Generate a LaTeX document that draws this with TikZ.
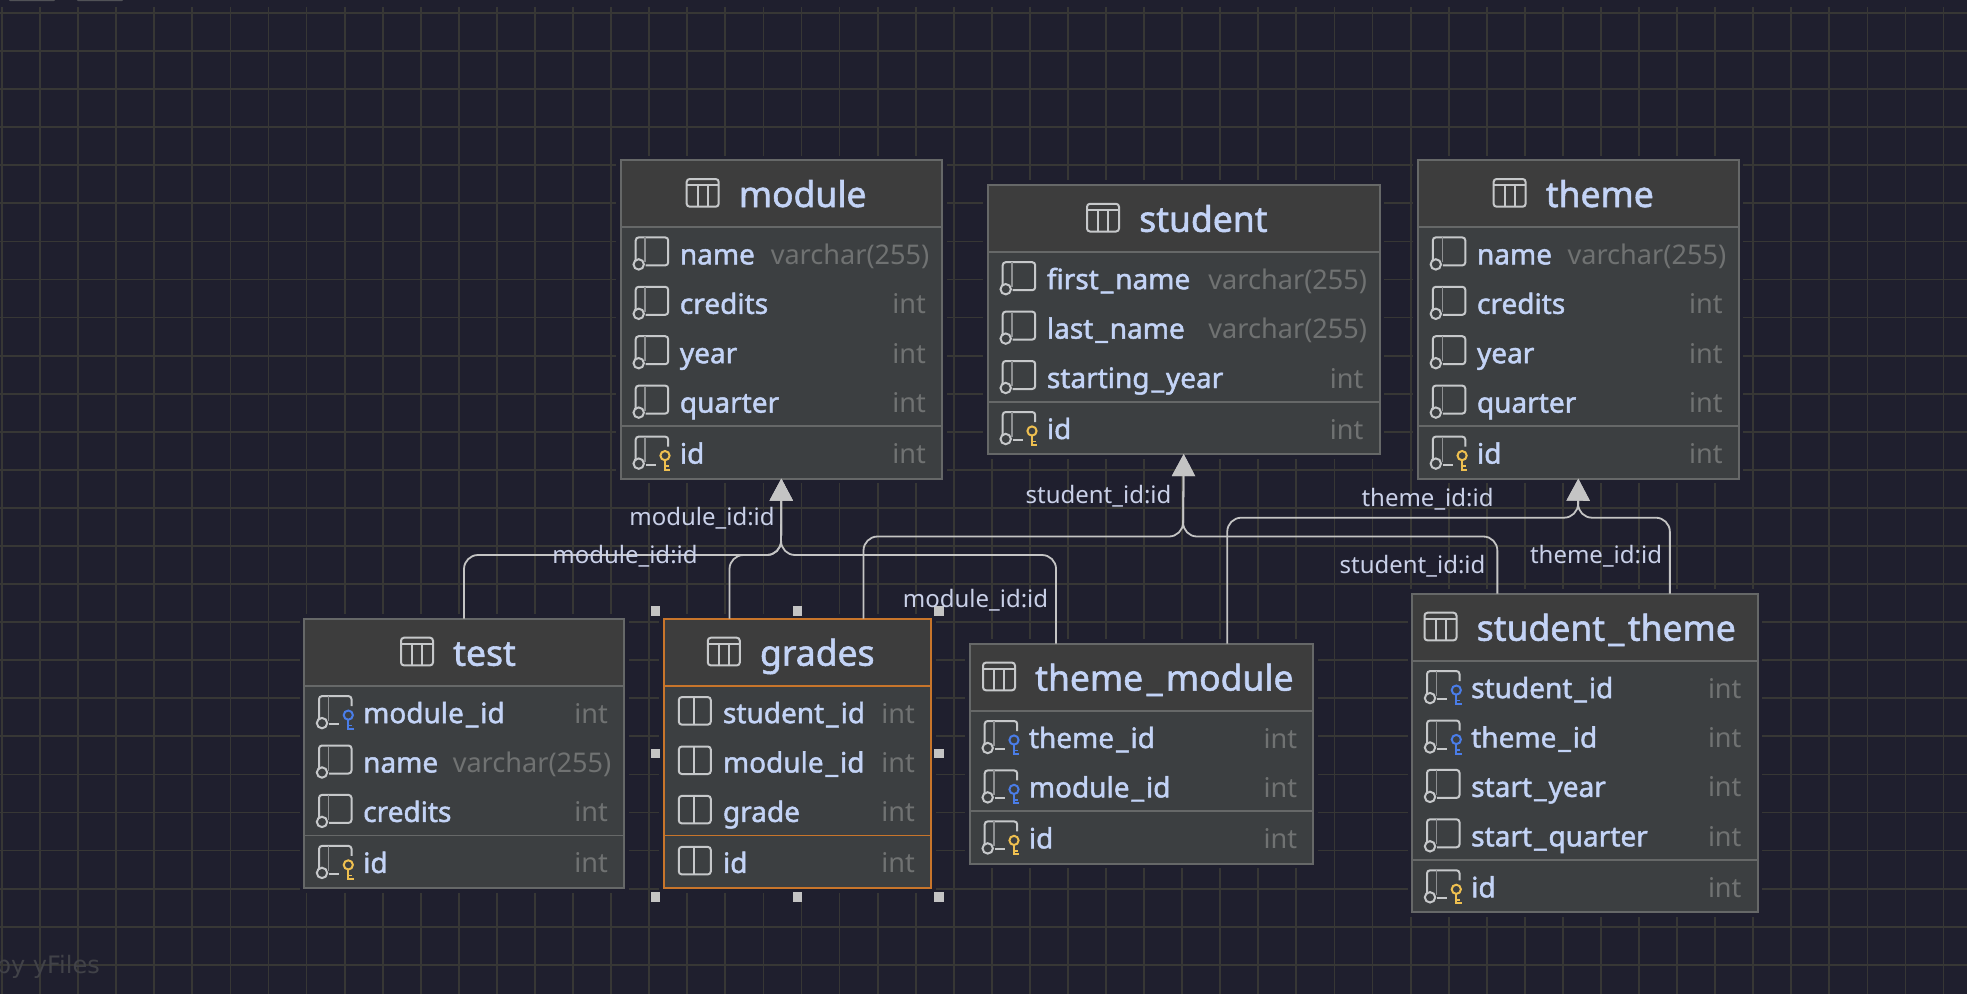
\documentclass[tikz,border=0pt]{standalone}
\usepackage{fontspec}
\setmainfont{Noto Sans}
\newfontfamily\fieldfont[FakeBold=1.6]{Noto Sans}
\newfontfamily\markfont{DejaVu Sans}
\usetikzlibrary{positioning,arrows.meta}
\definecolor{canvas}{HTML}{1F1F2E}
\definecolor{gridline}{HTML}{373735}
\definecolor{headfill}{HTML}{3D3D3D}
\definecolor{bodyfill}{HTML}{3C3F41}
\definecolor{rulegray}{HTML}{666868}
\definecolor{selorange}{HTML}{C8752B}
\definecolor{fieldtext}{HTML}{C3D3F6}
\definecolor{typetext}{HTML}{707272}
\definecolor{linktext}{HTML}{C9D0E8}
\definecolor{linkgray}{HTML}{C4C4C4}
\definecolor{iconline}{HTML}{C6C8CA}
\definecolor{iconinner}{HTML}{8E9092}
\definecolor{keyyellow}{HTML}{EFC050}
\definecolor{keyblue}{HTML}{4A7DE8}
\definecolor{watermark}{HTML}{414248}
\newcommand{\us}{\kern2pt\_\kern2pt}
\newcommand{\bigus}{\kern3.5pt\_\kern3.5pt}
\newcommand{\vch}{varchar(255)\kern-3.5pt}
\tikzset{
  tablebody/.style={rectangle,draw=#1,line width=2pt,fill=bodyfill,anchor=north west,outer sep=0pt,inner sep=0pt,
    preaction={draw=canvas,line width=9pt}},
  tablehead/.style={rectangle,draw=#1,line width=2pt,fill=headfill,anchor=north,outer sep=0pt,inner sep=0pt,minimum height=67pt},
  titletext/.style={anchor=base west,inner sep=0pt,text=fieldtext,font=\fieldfont\fontsize{35.5}{40}\selectfont},
  fieldname/.style={anchor=base west,inner sep=0pt,text=fieldtext,font=\fieldfont\fontsize{28}{32}\selectfont},
  fieldtype/.style={anchor=base east,inner sep=0pt,text=typetext,font=\fontsize{27.1}{30}\selectfont},
  linklabel/.style={anchor=base,inner sep=0pt,text=linktext,font=\fontsize{24}{28}\selectfont},
  fk/.style={draw=linkgray,line width=1.8pt,rounded corners=14pt,-{Triangle[length=22pt,width=23pt,color=linkgray]}},
  handle/.style={rectangle,fill=linkgray,inner sep=0pt,minimum size=9.5pt},
  iconstroke/.style={draw=iconline,line width=2pt},
  colplain/.pic={
    \draw[iconstroke,rounded corners=3pt] (0,-3) -- (0,-27) -- (32.5,-27) -- (32.5,1) -- (10,1);
    \draw[draw=iconinner,line width=1.6pt] (9.5,-27) -- (9.5,-2);
    \draw[iconstroke] (3,0) circle (5.2pt);
  },
  colkey/.pic={
    \draw[iconstroke,rounded corners=3pt] (0,-3) -- (0,-27) -- (32.5,-27) -- (32.5,-17);
    \draw[iconstroke] (10,1) -- (20,1);
    \draw[draw=iconinner,line width=1.6pt] (9.5,-27) -- (9.5,-2);
    \draw[iconstroke] (3,0) circle (5.2pt);
    \draw[draw=#1,line width=2pt] (29.3,-8) circle (4.6pt);
    \draw[draw=#1,line width=2pt] (29.3,-3.4) -- (29.3,6) -- (34.5,6);
    \draw[draw=#1,line width=1.6pt] (29.3,2.5) -- (33,2.5);
  },
  colbare/.pic={
    \draw[iconstroke,rounded corners=3pt] (0,-26) rectangle (32,1.5);
    \draw[iconstroke] (15,-26) -- (15,1.5);
  },
  tableicon/.pic={
    \draw[iconstroke,rounded corners=3pt] (0,-27) rectangle (32,0.7);
    \draw[iconstroke] (0,-21) -- (32,-21) (11,-21) -- (11,0.7) (21,-21) -- (21,0.7);
  }
}
% #1 border colour, #2 name, #3 position, #4 width, #5 title offset, #6 fields above the id, #7 title
\newcommand{\dbtable}[7][rulegray]{
  \pgfmathsetmacro\tblh{170.5+49.4*(#6-1)}
  \pgfmathsetmacro\tblrule{118+49.4*(#6-1)}
  \node[tablebody=#1,minimum width=#4pt,minimum height=\tblh pt] (#2) at (#3) {};
  \node[tablehead=#1,minimum width=#4pt] (#2-head) at (#2.north) {};
  \node[titletext] (#2-title) at ([xshift=#5pt,yshift=-47pt]#2.north west) {#7};
  \pic at ([xshift=-52pt,yshift=1pt]#2-title.base west) {tableicon};
  \draw[draw=#1,line width=1.8pt] ([yshift=-\tblrule pt]#2.north west) -- ([yshift=-\tblrule pt]#2.north east);
}
% #1 extra drop, #2 table, #3 row, #4 name, #5 type, #6 icon pic
\newcommand{\dbfield}[6][0]{
  \pgfmathsetmacro\rowy{104.4+49.4*#3+#1}
  \node[fieldname] (#2-#3) at ([xshift=59pt,yshift=-\rowy pt]#2.north west) {#4};
  \node[fieldtype] (#2-#3-type) at ([xshift=-16pt,yshift=-\rowy pt]#2.north east) {#5};
  \pic at ([xshift=15pt,yshift=-\rowy pt]#2.north west) {#6};
}
\begin{document}
\begin{tikzpicture}[x=1pt,y=-1pt]
\useasboundingbox (0,0) rectangle (1967,994);
\clip (0,0) rectangle (1967,994);
\fill[canvas] (0,0) rectangle (1967,994);
\fill[rulegray!70!canvas,rounded corners=1pt] (9,-4) rectangle (55,1);
\fill[rulegray!70!canvas,rounded corners=1pt] (77,-4) rectangle (123,1);
\foreach \k in {0,...,26}
  \draw[gridline,line width=1.8pt] (0,13+38.07*\k) -- (1967,13+38.07*\k);
\foreach \k in {0,...,52}
  \draw[gridline,line width=1.8pt] (2+38.07*\k,7) -- (2+38.07*\k,994);
\node[anchor=base east,inner sep=0pt,text=watermark,font=\markfont\fontsize{24}{28}\selectfont] (credit) at (100,973) {by yFiles};

\dbtable{module}{620.7,160}{321.3}{118}{4}{module}
\foreach \row/\fname/\ftype in {0/name/\vch,1/credits/int,2/year/int,3/quarter/int}
  \dbfield{module}{\row}{\fname}{\ftype}{colplain};
\dbfield[1.6]{module}{4}{id}{int}{colkey=keyyellow}

\dbtable{student}{987.7,184.8}{392}{151.3}{3}{student}
\foreach \row/\fname/\ftype in {0/first\us name/\vch,1/last\us name/\vch,2/starting\us year/int}
  \dbfield{student}{\row}{\fname}{\ftype}{colplain};
\dbfield[1.6]{student}{3}{id}{int}{colkey=keyyellow}

\dbtable{theme}{1417.8,160}{321}{127.8}{4}{theme}
\foreach \row/\fname/\ftype in {0/name/\vch,1/credits/int,2/year/int,3/quarter/int}
  \dbfield{theme}{\row}{\fname}{\ftype}{colplain};
\dbfield[1.6]{theme}{4}{id}{int}{colkey=keyyellow}

\dbtable{test}{304,618.7}{320}{149}{3}{test}
\dbfield{test}{0}{module\us id}{int}{colkey=keyblue}
\dbfield{test}{1}{name}{\vch}{colplain}
\dbfield{test}{2}{credits}{int}{colplain}
\dbfield[1.6]{test}{3}{id}{int}{colkey=keyyellow}

\dbtable[selorange]{grades}{663.8,618.7}{267.4}{96}{3}{grades}
\foreach \row/\fname in {0/student\us id,1/module\us id,2/grade}
  \dbfield{grades}{\row}{\fname}{int}{colbare};
\dbfield[1.6]{grades}{3}{id}{int}{colbare}
\foreach \anc/\dx/\dy in {north west/-8.2/7.7,north/0/7.7,north east/8/7.7,west/-8.2/0,east/8/0,south west/-8.2/-9,south/0/-9,south east/8/-9}
  \node[handle] (grades-\anc) at ([xshift=\dx pt,yshift=\dy pt]grades.\anc) {};

\dbtable{theme_module}{969.7,643.6}{343.7}{65.3}{2}{theme\bigus module}
\dbfield{theme_module}{0}{theme\us id}{int}{colkey=keyblue}
\dbfield{theme_module}{1}{module\us id}{int}{colkey=keyblue}
\dbfield[1.6]{theme_module}{2}{id}{int}{colkey=keyyellow}

\dbtable{student_theme}{1412,593.7}{345.7}{64.5}{4}{student\bigus theme}
\dbfield{student_theme}{0}{student\us id}{int}{colkey=keyblue}
\dbfield{student_theme}{1}{theme\us id}{int}{colkey=keyblue}
\dbfield{student_theme}{2}{start\us year}{int}{colplain}
\dbfield{student_theme}{3}{start\us quarter}{int}{colplain}
\dbfield[1.6]{student_theme}{4}{id}{int}{colkey=keyyellow}

\coordinate (moduletrunk) at (781,555);
\coordinate (studenttrunk) at (1183,536.5);
\coordinate (themetrunk) at (1578,517.7);
\draw[fk] (test.north) |- (moduletrunk) -- (module.south);
\draw[fk] ([xshift=-68pt]grades.north) |- (moduletrunk) -- (module.south);
\draw[fk] ([xshift=-85.5pt]theme_module.north) |- (moduletrunk) -- (module.south);
\draw[fk] ([xshift=66pt]grades.north) |- (studenttrunk) -- (student.south);
\draw[fk] ([xshift=-87.5pt]student_theme.north) |- (studenttrunk) -- (student.south);
\draw[fk] ([xshift=85.7pt]theme_module.north) |- (themetrunk) -- (theme.south);
\draw[fk] ([xshift=85pt]student_theme.north) |- (themetrunk) -- (theme.south);

\node[linklabel] (lbl-module-a) at (702,525) {module\_id:id};
\node[linklabel] (lbl-module-b) at (625,563.7) {module\_id:id};
\node[linklabel] (lbl-module-c) at (975.5,607.7) {module\_id:id};
\node[linklabel] (lbl-student-a) at (1098.5,503.3) {student\_id:id};
\node[linklabel] (lbl-student-b) at (1412.5,573.7) {student\_id:id};
\node[linklabel] (lbl-theme-a) at (1427.5,506) {theme\_id:id};
\node[linklabel] (lbl-theme-b) at (1596,563.7) {theme\_id:id};
\end{tikzpicture}
\end{document}
